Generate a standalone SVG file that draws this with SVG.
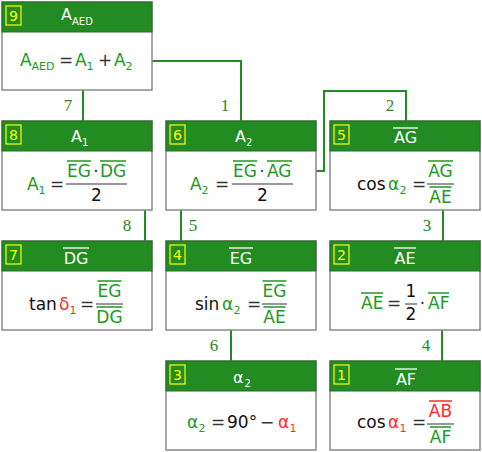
<svg xmlns="http://www.w3.org/2000/svg" width="482" height="452" viewBox="0 0 482 452">
<style>
.box{fill:#fff;stroke:#8a8a8a;stroke-width:1.5}
.hd{fill:#228b22;stroke:#2a6a2a;stroke-width:1}
.nb{fill:none;stroke:#ffff00;stroke-width:1.2}
.nt{font-family:"DejaVu Sans",sans-serif;font-size:14px;fill:#ffff00;text-anchor:middle}
.ht{font-family:"DejaVu Sans",sans-serif;font-size:16px;fill:#fff}
.hs{font-family:"DejaVu Sans",sans-serif;font-size:10px;fill:#fff}
.f{font-family:"DejaVu Sans",sans-serif;font-size:17px}
.s{font-family:"DejaVu Sans",sans-serif;font-size:11px}
.g{fill:#229922}
.k{fill:#111}
.o{fill:#333}
.r{fill:#ff2a2a}
.m{text-anchor:middle}
.ol{stroke:#229922;stroke-width:1.5}
.olw{stroke:#fff;stroke-width:1.3}
.olr{stroke:#ff2a2a;stroke-width:1.5}
.bar{stroke:#777;stroke-width:1.5}
.c{fill:none;stroke:#228b22;stroke-width:2}
.lb{font-family:"Liberation Serif",serif;font-size:17px;fill:#228b22;text-anchor:middle}
</style>

<g id="connectors">
<polyline class="c" points="83,75 83,121"/>
<polyline class="c" points="136,61 241,61 241,121"/>
<polyline class="c" points="130,171 145,171 145,241"/>
<polyline class="c" points="245,158 245,155 181,155 181,241"/>
<polyline class="c" points="296,171 324,171 324,91 406,91 406,121"/>
<polyline class="c" points="443,207 443,241"/>
<polyline class="c" points="231,317 231,361"/>
<polyline class="c" points="442,312 442,361"/>
<text class="lb" x="68" y="111">7</text>
<text class="lb" x="225" y="111">1</text>
<text class="lb" x="390" y="111">2</text>
<text class="lb" x="127" y="231">8</text>
<text class="lb" x="193" y="231">5</text>
<text class="lb" x="427" y="231">3</text>
<text class="lb" x="214" y="351">6</text>
<text class="lb" x="426" y="351">4</text>
</g>

<g id="node9">
<rect class="box" x="2" y="2" width="150" height="88"/>
<rect class="hd" x="2" y="2" width="150" height="30"/>
<rect class="nb" x="6" y="6" width="15" height="19"/>
<text class="nt" x="13.5" y="21">9</text>
<text class="ht" x="61" y="20">A</text><text class="hs" x="72" y="25">AED</text>
<text class="f g" x="20" y="66">A</text><text class="s g" x="31.5" y="70">AED</text>
<text class="f o" x="59" y="66">=</text>
<text class="f g" x="75" y="66">A</text><text class="s g" x="86.5" y="70">1</text>
<text class="f o" x="98" y="66">+</text>
<text class="f g" x="114" y="66">A</text><text class="s g" x="125.5" y="70">2</text>
</g>

<g id="node8">
<rect class="box" x="2" y="121" width="150" height="89"/>
<rect class="hd" x="2" y="121" width="150" height="30"/>
<rect class="nb" x="6" y="125" width="15" height="19"/>
<text class="nt" x="13.5" y="140">8</text>
<text class="ht" x="71" y="142">A</text><text class="hs" x="82" y="146">1</text>
<text class="f g" x="27" y="190">A</text><text class="s g" x="38.5" y="194">1</text>
<text class="f o" x="50" y="190">=</text>
<text class="f g" x="67" y="177">EG</text>
<line class="ol" x1="67" y1="161" x2="91" y2="161"/>
<text class="f o m" x="96" y="177">·</text>
<text class="f g" x="100" y="177">DG</text>
<line class="ol" x1="100" y1="161" x2="126" y2="161"/>
<line class="bar" x1="66" y1="184" x2="127" y2="184"/>
<text class="f k m" x="96.5" y="201">2</text>
</g>

<g id="node6">
<rect class="box" x="166" y="121" width="150" height="89"/>
<rect class="hd" x="166" y="121" width="150" height="30"/>
<rect class="nb" x="170" y="125" width="15" height="19"/>
<text class="nt" x="177.5" y="140">6</text>
<text class="ht" x="235" y="142">A</text><text class="hs" x="246" y="146">2</text>
<text class="f g" x="190" y="190">A</text><text class="s g" x="201.5" y="194">2</text>
<text class="f o" x="215" y="190">=</text>
<text class="f g" x="233" y="177">EG</text>
<line class="ol" x1="233" y1="161" x2="257" y2="161"/>
<text class="f o m" x="262" y="177">·</text>
<text class="f g" x="267" y="177">AG</text>
<line class="ol" x1="267" y1="161" x2="292" y2="161"/>
<line class="bar" x1="232" y1="184" x2="293" y2="184"/>
<text class="f k m" x="262.5" y="201">2</text>
</g>

<g id="node5">
<rect class="box" x="330" y="121" width="150" height="89"/>
<rect class="hd" x="330" y="121" width="150" height="30"/>
<rect class="nb" x="334" y="125" width="15" height="19"/>
<text class="nt" x="341.5" y="140">5</text>
<text class="ht m" x="405.5" y="143">AG</text>
<line class="olw" x1="393" y1="128" x2="418" y2="128"/>
<text class="f k" x="357" y="190">cos</text>
<text class="f g" x="388" y="190">α</text><text class="s g" x="399.5" y="194">2</text>
<text class="f o" x="412" y="190">=</text>
<text class="f g m" x="440.5" y="177">AG</text>
<line class="ol" x1="428" y1="161" x2="453" y2="161"/>
<line class="bar" x1="427" y1="184" x2="454" y2="184"/>
<line class="ol" x1="429.5" y1="187" x2="451.5" y2="187"/>
<text class="f g m" x="440.5" y="203">AE</text>
</g>

<g id="node7">
<rect class="box" x="2" y="241" width="150" height="89"/>
<rect class="hd" x="2" y="241" width="150" height="30"/>
<rect class="nb" x="6" y="245" width="15" height="19"/>
<text class="nt" x="13.5" y="260">7</text>
<text class="ht m" x="76" y="264">DG</text>
<line class="olw" x1="63" y1="248" x2="89" y2="248"/>
<text class="f k" x="29" y="310">tan</text>
<text class="f r" x="59" y="310">δ</text><text class="s r" x="69.5" y="314">1</text>
<text class="f o" x="80" y="310">=</text>
<text class="f g m" x="109.5" y="297">EG</text>
<line class="ol" x1="97.5" y1="281" x2="121.5" y2="281"/>
<line class="bar" x1="96" y1="304" x2="123" y2="304"/>
<line class="ol" x1="96.5" y1="307" x2="122.5" y2="307"/>
<text class="f g m" x="109.5" y="323">DG</text>
</g>

<g id="node4">
<rect class="box" x="166" y="241" width="150" height="89"/>
<rect class="hd" x="166" y="241" width="150" height="30"/>
<rect class="nb" x="170" y="245" width="15" height="19"/>
<text class="nt" x="177.5" y="260">4</text>
<text class="ht m" x="241" y="264">EG</text>
<line class="olw" x1="229" y1="248" x2="253" y2="248"/>
<text class="f k" x="195" y="310">sin</text>
<text class="f g" x="222" y="310">α</text><text class="s g" x="233.5" y="314">2</text>
<text class="f o" x="247" y="310">=</text>
<text class="f g m" x="274.5" y="297">EG</text>
<line class="ol" x1="262.5" y1="281" x2="286.5" y2="281"/>
<line class="bar" x1="262" y1="304" x2="287" y2="304"/>
<line class="ol" x1="263.5" y1="307" x2="285.5" y2="307"/>
<text class="f g m" x="274.5" y="323">AE</text>
</g>

<g id="node2">
<rect class="box" x="330" y="241" width="150" height="89"/>
<rect class="hd" x="330" y="241" width="150" height="30"/>
<rect class="nb" x="334" y="245" width="15" height="19"/>
<text class="nt" x="341.5" y="260">2</text>
<text class="ht m" x="405" y="264">AE</text>
<line class="olw" x1="394" y1="248" x2="416" y2="248"/>
<text class="f g" x="361" y="309">AE</text>
<line class="ol" x1="361" y1="293" x2="383" y2="293"/>
<text class="f o" x="387" y="309">=</text>
<text class="f k m" x="411" y="297">1</text>
<line class="bar" x1="405" y1="304" x2="417" y2="304"/>
<text class="f k m" x="411" y="320">2</text>
<text class="f o m" x="422.5" y="309">·</text>
<text class="f g" x="428" y="309">AF</text>
<line class="ol" x1="428" y1="293" x2="449" y2="293"/>
</g>

<g id="node3">
<rect class="box" x="166" y="361" width="150" height="89"/>
<rect class="hd" x="166" y="361" width="150" height="30"/>
<rect class="nb" x="170" y="365" width="15" height="19"/>
<text class="nt" x="177.5" y="380">3</text>
<text class="ht" x="233" y="383">α</text><text class="hs" x="244.5" y="387">2</text>
<text class="f g" x="187" y="428">α</text><text class="s g" x="198.5" y="432">2</text>
<text class="f o" x="211" y="428">=</text>
<text class="f k" x="227" y="428">90°</text>
<text class="f o" x="260" y="428">−</text>
<text class="f r" x="278" y="428">α</text><text class="s r" x="289.5" y="432">1</text>
</g>

<g id="node1">
<rect class="box" x="330" y="361" width="150" height="89"/>
<rect class="hd" x="330" y="361" width="150" height="30"/>
<rect class="nb" x="334" y="365" width="15" height="19"/>
<text class="nt" x="341.5" y="380">1</text>
<text class="ht m" x="406" y="385">AF</text>
<line class="olw" x1="395" y1="369" x2="417" y2="369"/>
<text class="f k" x="357" y="428">cos</text>
<text class="f r" x="388" y="428">α</text><text class="s r" x="399.5" y="432">1</text>
<text class="f o" x="412" y="428">=</text>
<text class="f r m" x="440.5" y="417">AB</text>
<line class="olr" x1="429" y1="401" x2="452" y2="401"/>
<line class="bar" x1="427" y1="424" x2="454" y2="424"/>
<line class="ol" x1="430" y1="427" x2="451" y2="427"/>
<text class="f g m" x="440.5" y="443">AF</text>
</g>
</svg>
